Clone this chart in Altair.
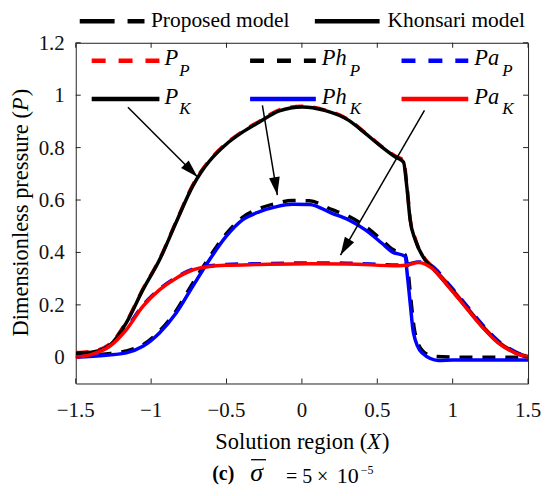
import math
import altair as alt
import pandas as pd

# ---------------- data ----------------
X_PK = [-1.5, -1.386, -1.275, -1.165, -1.055, -0.945, -0.834, -0.725, -0.67, -0.614, -0.504,
        -0.394, -0.284, -0.15, 0.0, 0.15, 0.311, 0.421, 0.531, 0.62, 0.674, 0.696,
        0.718, 0.752, 0.818, 0.862, 0.972, 1.082, 1.192, 1.302, 1.413, 1.5]
Y_PK = [0.015, 0.02, 0.045, 0.131, 0.257, 0.371, 0.515, 0.652, 0.705, 0.748, 0.812,
        0.859, 0.897, 0.940, 0.955, 0.942, 0.904, 0.854, 0.802, 0.764, 0.745, 0.650,
        0.524, 0.448, 0.371, 0.343, 0.272, 0.196, 0.12, 0.057, 0.018, 0.0]
X_PP = X_PK
Y_PP = [0.018, 0.024, 0.05, 0.135, 0.26, 0.373, 0.518, 0.656, 0.709, 0.751, 0.815,
        0.862, 0.9, 0.944, 0.958, 0.944, 0.906, 0.856, 0.804, 0.768, 0.752, 0.66,
        0.53, 0.452, 0.374, 0.348, 0.277, 0.2, 0.124, 0.06, 0.02, 0.003]

X_HK = [-1.5, -1.3, -1.165, -1.055, -0.945, -0.834, -0.725, -0.614, -0.504, -0.394,
        -0.284, -0.174, -0.064, 0.05, 0.2, 0.311, 0.421, 0.531, 0.597, 0.686, 0.696,
        0.718, 0.74, 0.796, 0.906, 1.0, 1.2, 1.5]
Y_HK = [0.0, 0.008, 0.017, 0.042, 0.093, 0.169, 0.27, 0.371, 0.46, 0.524,
        0.555, 0.574, 0.584, 0.583, 0.549, 0.524, 0.486, 0.435, 0.403, 0.384, 0.333,
        0.208, 0.093, 0.017, -0.012, -0.01, -0.01, -0.01]
X_HP = [-1.5, -1.3, -1.165, -1.055, -0.945, -0.834, -0.725, -0.614, -0.504, -0.394,
        -0.284, -0.174, -0.064, 0.05, 0.2, 0.311, 0.421, 0.531, 0.597, 0.686, 0.702,
        0.724, 0.748, 0.8, 0.87, 1.0, 1.2, 1.5]
Y_HP = [0.005, 0.013, 0.024, 0.048, 0.1, 0.178, 0.282, 0.382, 0.47, 0.534,
        0.567, 0.587, 0.598, 0.597, 0.563, 0.538, 0.499, 0.447, 0.413, 0.39, 0.34,
        0.215, 0.1, 0.025, 0.004, 0.001, 0.0, 0.0]

X_AK = [-1.5, -1.4, -1.275, -1.165, -1.055, -0.945, -0.834, -0.725, -0.614, -0.504,
        -0.284, 0.046, 0.3, 0.641, 0.7, 0.774, 0.862, 0.972, 1.082, 1.192, 1.302,
        1.413, 1.5]
Y_AK = [0.0, 0.01, 0.042, 0.105, 0.194, 0.257, 0.302, 0.333, 0.346, 0.351,
        0.354, 0.357, 0.356, 0.349, 0.352, 0.362, 0.340, 0.270, 0.194, 0.118, 0.055,
        0.017, 0.0]
X_AP = X_AK
Y_AP = [0.003, 0.013, 0.046, 0.11, 0.198, 0.26, 0.305, 0.336, 0.349, 0.354,
        0.357, 0.36, 0.359, 0.352, 0.355, 0.364, 0.348, 0.28, 0.205, 0.128, 0.063,
        0.022, 0.002]

# annotation arrows (data units): start x, start y, tip x, tip y
ARROW_X1 = [-1.154, -0.262, 0.813]
ARROW_Y1 = [0.954, 0.961, 0.942]
ARROW_X2 = [-0.692, -0.163, 0.256]
ARROW_Y2 = [0.688, 0.619, 0.390]

X_TICKS = [-1.5, -1.0, -0.5, 0.0, 0.5, 1.0, 1.5]
Y_TICKS = [0.0, 0.2, 0.4, 0.6, 0.8, 1.0, 1.2]
X_DOMAIN = [-1.5, 1.5]
Y_DOMAIN = [-0.1, 1.2]

# ---------------- layout ----------------
W, H = 454, 342
FONT = "Liberation Serif, Times New Roman, Tinos, DejaVu Serif, serif"
RED, BLUE, BLACK = "#ff0000", "#0000ff", "#000000"
INK = "#111111"

xs = alt.Scale(domain=X_DOMAIN, nice=False, zero=False)
ys = alt.Scale(domain=Y_DOMAIN, nice=False, zero=False)

X_ENC = alt.X("x:Q", scale=xs, axis=None)
Y_ENC = alt.Y("y:Q", scale=ys, axis=None)


def series_line(xv, yv, color, dash=None, width=3.5):
    df = pd.DataFrame({"x": xv, "y": yv})
    kw = dict(color=color, strokeWidth=width, interpolate="monotone", clip=True)
    if dash:
        kw["strokeDash"] = dash
    return alt.Chart(df).mark_line(**kw).encode(x=X_ENC, y=Y_ENC)


DASH = [13, 10]
layers = [
    series_line(X_PP, Y_PP, RED, DASH),
    series_line(X_HP, Y_HP, BLACK, DASH),
    series_line(X_AP, Y_AP, BLUE, DASH),
    series_line(X_PK, Y_PK, BLACK),
    series_line(X_HK, Y_HK, BLUE),
    series_line(X_AK, Y_AK, RED),
]

# inward ticks on all four sides + tick labels
xt = pd.DataFrame({"x": X_TICKS})
yt = pd.DataFrame({"y": Y_TICKS})
TL = 5
tick_kw = dict(color="#222", strokeWidth=1)
layers += [
    alt.Chart(xt).mark_rule(**tick_kw).encode(x=X_ENC, y=alt.value(H), y2=alt.value(H - TL)),
    alt.Chart(xt).mark_rule(**tick_kw).encode(x=X_ENC, y=alt.value(0), y2=alt.value(TL)),
    alt.Chart(yt).mark_rule(**tick_kw).encode(y=Y_ENC, x=alt.value(0), x2=alt.value(TL)),
    alt.Chart(yt).mark_rule(**tick_kw).encode(y=Y_ENC, x=alt.value(W), x2=alt.value(W - TL)),
    alt.Chart(xt).mark_text(font=FONT, fontSize=21, color=INK, align="center",
                            baseline="alphabetic").encode(
        x=X_ENC, y=alt.value(H + 34), text=alt.Text("x:Q", format="~g")),
    alt.Chart(yt).mark_text(font=FONT, fontSize=21, color=INK, align="right",
                            baseline="alphabetic", dy=7).encode(
        y=Y_ENC, x=alt.value(-11), text=alt.Text("y:Q", format="~g")),
]

# arrows
px_x = W / (X_DOMAIN[1] - X_DOMAIN[0])
px_y = H / (Y_DOMAIN[1] - Y_DOMAIN[0])
angles = []
for x1, y1, x2, y2 in zip(ARROW_X1, ARROW_Y1, ARROW_X2, ARROW_Y2):
    dx = (x2 - x1) * px_x
    dy = -(y2 - y1) * px_y
    angles.append(math.degrees(math.atan2(dx, -dy)) % 360)
arr = pd.DataFrame({"x": ARROW_X1, "y": ARROW_Y1, "x2": ARROW_X2, "y2": ARROW_Y2, "ang": angles})
layers.append(
    alt.Chart(arr).mark_rule(color=BLACK, strokeWidth=1.5).encode(
        x=X_ENC, y=Y_ENC, x2="x2:Q", y2="y2:Q")
)
HEAD = "M0,0L-0.3,1L0.3,1Z"
layers.append(
    alt.Chart(arr).mark_point(shape=HEAD, filled=True, size=1296, color=BLACK, opacity=1,
                              strokeWidth=0).encode(
        x=alt.X("x2:Q", scale=xs, axis=None), y=alt.Y("y2:Q", scale=ys, axis=None),
        angle=alt.Angle("ang:Q", scale=None))
)

# ---------------- chrome: titles, legends and caption ----------------
anchor = pd.DataFrame({"a": [0]})


def txt(x, y, s, size, style="normal", weight="normal", align="left", baseline="alphabetic",
        angle=0):
    kw = dict(text=s, font=FONT, fontSize=size, fontStyle=style, fontWeight=weight,
              align=align, baseline=baseline, color="#000")
    if angle:
        kw["angle"] = angle
    return alt.Chart(anchor).mark_text(**kw).encode(x=alt.value(x), y=alt.value(y))


def seg(x1, x2, y, color, dash=None, width=4.5):
    kw = dict(color=color, strokeWidth=width, strokeCap="butt")
    if dash:
        kw["strokeDash"] = dash
    return alt.Chart(anchor).mark_rule(**kw).encode(
        x=alt.value(x1), x2=alt.value(x2), y=alt.value(y))


# axis titles (Times metrics: em widths)
TS = 22.5
xt_main, xt_var = 6.778 * TS, 0.611 * TS
x0 = W / 2 - (xt_main + xt_var + 0.333 * TS) / 2
layers += [
    txt(x0, 408, "Solution region (", TS),
    txt(x0 + xt_main, 408, "X", TS, style="italic"),
    txt(x0 + xt_main + xt_var + 1, 408, ")", TS),
]
yt_main, yt_var = 10.054 * TS, 0.611 * TS
y0 = H / 2 + (yt_main + yt_var + 0.333 * TS) / 2
YTX = -47.5
layers += [
    txt(YTX, y0, "Dimensionless pressure (", TS, angle=270),
    txt(YTX, y0 - yt_main, "P", TS, style="italic", angle=270),
    txt(YTX, y0 - yt_main - yt_var - 1, ")", TS, angle=270),
]

# top legend (outside, above plot)
layers += [
    seg(4, 69, -21.5, BLACK, [35, 13]),
    txt(75.5, -16, "Proposed model", 21.5),
    seg(240, 305, -21.5, BLACK),
    txt(313, -16, "Khonsari model", 21.5),
]

# inner legend (3 columns x 2 rows)
ROWS = [18, 56.5]
COLS = [(16, 84, 89), (175, 241, 247), (327, 394, 400)]
entries = [
    (0, 0, "P", "P", RED, [14, 13]), (0, 1, "Ph", "P", BLACK, [14, 13]), (0, 2, "Pa", "P", BLUE, [14, 13]),
    (1, 0, "P", "K", BLACK, None), (1, 1, "Ph", "K", BLUE, None), (1, 2, "Pa", "K", RED, None),
]
for r, c, main, sub, colr, dash in entries:
    x1, x2, tx = COLS[c]
    y = ROWS[r]
    layers.append(seg(x1, x2, y, colr, dash))
    layers.append(txt(tx, y + 4.5, main, 22.5, style="italic"))
    off = 15 if main == "P" else 28
    layers.append(txt(tx + off, y + 15, sub, 17, style="italic"))

# caption
layers += [
    txt(137, 439, "(c)", 20, weight="bold"),
    txt(181.5, 440, "σ", 26, style="italic", align="center"),
    alt.Chart(anchor).mark_rule(color="#000", strokeWidth=1.3).encode(
        x=alt.value(176), x2=alt.value(191), y=alt.value(418.5)),
    txt(211, 442, "= 5 ×", 20),
    txt(262, 442, "10", 22),
    txt(286, 433, "−5", 12),
]

chart = alt.layer(*layers).properties(
    width=W, height=H,
    padding={"left": 68, "top": 34, "right": 14, "bottom": 104},
    autosize=alt.AutoSizeParams(type="none"),
).configure_view(stroke="#222", strokeWidth=1).configure_text(font=FONT)

chart.save("out.html", embed_options={"renderer": "svg", "actions": False})
